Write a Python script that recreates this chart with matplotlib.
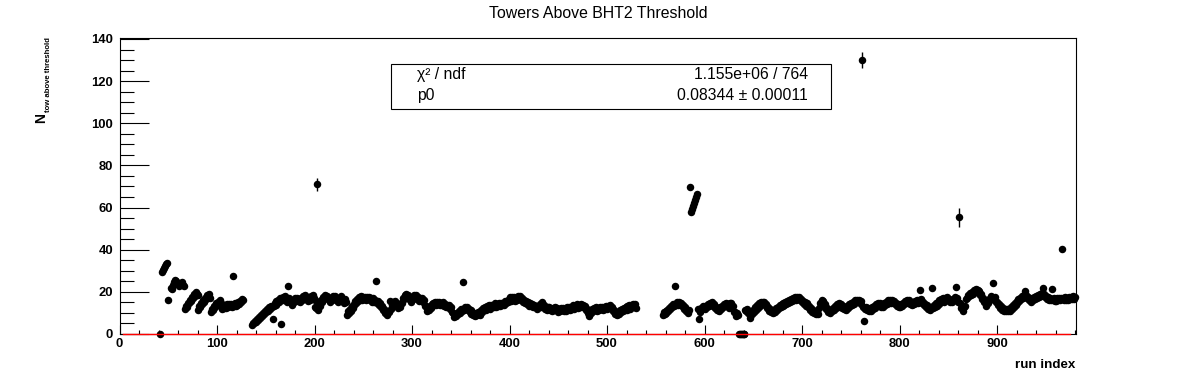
import matplotlib
matplotlib.use("Agg")
import matplotlib.pyplot as plt
from matplotlib.patches import Rectangle
from matplotlib.ticker import MultipleLocator

plt.rcParams['font.family'] = ['Liberation Sans', 'DejaVu Sans']

# ---------------- data (run index segments and tower counts) ----------------
seg_042 = [0.0]
seg_044 = [29.2, 30.4, 31.5, 32.3, 33.0, 33.8, 16.1]
seg_053 = [22.0, 21.4, 23.1, 24.6, 25.6, 25.2, 24.1, 23.5, 22.9, 23.6, 24.2, 24.8, 23.4, 22.6]
seg_067 = [12.0, 13.4, 13.0, 14.8, 14.6, 16.2, 15.7, 17.5, 17.0, 18.9, 18.1, 19.9, 19.2, 18.4,
           11.5, 13.2, 12.9, 14.6, 14.2, 16.0, 15.4, 17.3, 16.6, 18.5, 17.7, 18.9, 17.1,
           10.4, 12.0, 11.6, 13.3, 12.8, 14.5, 13.9, 15.4, 14.9, 16.0, 14.6,
           12.0, 13.4, 12.5, 13.7, 12.3, 14.1, 12.8, 14.0, 13.2, 14.3, 12.8, 27.5, 13.1, 14.6,
           13.3, 14.9, 13.9, 15.1, 14.3, 15.7, 15.0, 16.6, 16.0]
seg_136 = [4.2, 5.3, 5.0, 6.3, 5.7, 7.2, 6.6, 8.1, 7.5, 9.0, 8.6, 10.0, 9.5, 11.0, 10.4, 12.0,
           11.0, 12.6, 11.8, 13.4, 12.7, 7.0, 13.2, 14.8, 13.9, 15.6, 14.7, 16.2, 15.4, 16.9,
           4.6, 15.9, 17.4, 16.3, 17.9, 17.0]
seg_172 = [15.4, 22.8, 17.1, 15.2, 15.8, 13.9, 15.9, 15.4, 17.3, 16.3, 17.2, 15.6, 16.2, 15.0,
           16.9, 16.1, 17.9, 16.7, 18.5, 16.6, 17.3, 15.5, 17.1, 16.2, 18.0, 17.0, 18.7, 16.9]
seg_200 = [16.2, 12.6, 12.5, 71.0, 11.6, 14.1, 13.5, 15.9, 15.2, 17.4, 16.4, 18.5, 17.5, 18.2,
           16.6, 17.0, 15.2, 17.1, 16.2, 18.0, 17.0, 18.0, 16.0, 17.0, 15.2, 17.0, 16.3, 17.8,
           15.8, 16.7, 14.9, 16.5, 15.4, 9.0, 10.9, 10.2]
seg_236 = [11.9, 10.8, 13.1, 12.5, 14.4, 13.6, 15.5, 14.7, 16.6, 15.6, 17.4, 16.3, 17.8, 16.1,
           17.6, 16.5, 17.5, 15.9, 17.6, 16.4, 17.4, 16.0, 17.1, 15.4, 16.9, 15.2, 16.2, 25.2,
           14.8, 15.8, 13.9, 14.7, 12.6, 13.4, 11.3, 12.0, 10.0, 10.8, 9.2, 11.0, 10.4, 15.7,
           12.0, 13.8, 13.2, 15.0, 14.2, 15.8, 14.4, 14.0]
seg_286 = [12.2, 13.4, 12.7, 14.9, 14.6, 17.1, 16.8, 18.4, 18.9, 17.6, 18.3, 16.4, 17.2, 15.4,
           17.3, 16.4, 18.6, 17.7, 18.4, 16.6, 17.4, 15.6, 17.1, 16.2, 16.9, 15.2, 16.0, 13.1,
           13.2, 11.0]
seg_316 = [12.4, 11.6, 13.4, 12.5, 14.1, 13.1, 14.8, 13.6, 15.2, 13.9, 15.3, 14.2, 15.2, 13.7,
           14.6, 13.6, 15.1, 13.5, 14.4, 12.9, 13.9, 12.8, 13.7, 12.0, 12.8, 10.5, 10.0, 8.0]
seg_344 = [9.2, 8.4, 10.1, 9.4, 11.0, 10.2, 11.9, 11.0, 24.5, 11.3, 12.9, 11.8, 12.9, 11.4,
           12.1, 10.5, 11.2,
           9.6, 10.4, 8.8, 9.8, 8.4, 9.7, 9.0, 10.6, 9.7, 9.0, 11.4, 10.5, 12.2, 11.2, 12.9,
           11.6, 13.1, 12.2, 13.6, 12.1,
           13.7, 12.7, 13.9, 12.9, 14.5, 13.0, 14.4, 13.4, 14.5, 13.3, 14.9, 13.8, 14.9, 13.9,
           15.5, 14.6, 15.7, 15.1, 16.6, 15.8,
           17.4, 15.8, 17.6, 16.5, 17.5, 15.6, 17.2, 16.3, 18.0, 17.0, 17.8, 16.1, 16.9, 15.2,
           16.0, 14.9, 15.8, 14.1, 15.0, 13.4, 14.9, 13.3, 14.3, 12.7, 13.6, 12.6, 13.5, 12.0,
           13.4, 12.7]
seg_431 = [14.2, 13.0, 15.3, 13.4, 13.8, 12.0, 12.7, 11.2, 12.9, 12.1, 12.8, 11.2, 12.0, 10.9,
           12.2, 11.3, 12.9, 11.4, 12.2, 10.6,
           11.6, 10.8, 12.4, 11.6, 12.5, 10.9, 11.9, 11.1, 12.7, 11.9, 12.8, 11.2, 12.9, 12.1,
           13.6, 12.0, 13.5, 12.6, 14.0, 12.5,
           13.4, 12.6, 14.1, 12.7, 13.6, 12.8, 13.4, 11.5, 11.9, 9.9, 10.4, 8.7, 10.6, 10.0,
           11.7, 10.9, 12.5, 11.6, 12.6, 11.1,
           12.0, 11.2, 12.8, 11.9, 12.8, 11.3, 12.9, 12.0, 13.5, 12.0, 13.5, 12.5, 13.9, 12.3,
           12.9, 11.0, 11.5, 9.6, 10.2, 8.8,
           10.4, 9.7, 11.4, 10.6, 12.1, 10.7, 12.3, 11.4, 13.0, 11.6, 13.1, 12.2, 13.6, 12.1,
           13.6, 12.7, 14.1, 12.6, 14.0, 12.5]
seg_557 = [9.0, 10.5, 9.7, 10.9, 10.0, 11.5, 10.8, 12.5, 11.8, 13.5, 12.7, 14.3, 13.4, 22.8,
           13.7, 15.2, 13.9, 15.1, 14.0, 14.9, 13.2, 13.8, 12.0, 12.6, 10.8, 11.5, 10.0, 11.6,
           69.9, 58.0, 59.5, 60.8, 62.2, 63.5, 65.0, 66.3]
seg_593 = [12.1, 7.0, 10.6, 12.4, 11.7, 13.4, 12.5, 13.3, 11.8, 13.4,
           12.6, 14.2, 13.4, 14.9, 14.0, 15.2, 13.5, 14.2, 12.4, 13.0,
           11.2, 12.0, 11.0, 12.6, 11.9, 13.5, 12.7, 14.2, 13.3, 14.8,
           13.2, 14.0, 12.4, 14.6, 14.8, 12.9, 13.1, 10.6, 10.6, 8.6,
           10.2, 8.8,
           0.0, 0.0, 0.0, 0.0, 0.0, 0.0, 0.0,
           11.6, 10.9, 11.8, 10.0, 10.1, 7.4, 9.6, 9.6, 11.6, 10.4,
           12.7, 11.5, 13.6, 12.4, 14.5, 13.4, 15.4, 14.5, 15.3]
seg_661 = [15.2, 13.6, 14.0, 12.2, 12.8, 11.1, 11.9, 10.4, 11.4, 10.1,
           11.5, 10.6, 12.2, 11.4, 13.0, 12.2, 13.7, 12.8, 14.2, 13.2,
           14.5, 13.6, 15.1, 14.2, 15.7, 14.8, 16.3, 15.3, 16.8, 15.8,
           17.2, 16.2, 17.5, 16.3, 17.7, 16.6, 17.6, 16.0, 16.7, 15.0,
           15.7, 14.1, 15.0, 13.5, 14.5, 12.8, 13.4, 11.6, 12.2, 10.5,
           11.3, 9.8, 10.8, 9.4, 10.6, 9.7, 12.5, 14.5,
           14.4, 15.9, 14.7, 15.6, 13.7, 14.0, 11.9, 12.3, 10.4, 11.2, 10.1, 11.6, 10.8, 12.4,
           11.6, 13.2, 12.4, 14.0, 13.0, 14.5, 13.1]
seg_740 = [14.0, 12.4, 13.2, 11.7, 12.6, 11.6, 13.2, 12.4, 14.0, 13.2,
           14.7, 13.8, 15.3, 14.4, 15.9, 15.0, 16.0, 15.1, 16.1, 15.0,
           15.8, 14.0, 130.0, 13.0, 6.3, 12.0, 12.8, 11.2, 12.2, 10.8,
           12.0, 11.1, 12.6, 11.8, 13.4, 12.5, 14.1, 13.2, 14.7, 13.8,
           14.6, 13.0, 13.8, 12.9, 14.5, 13.7, 15.3, 14.4, 15.9, 14.9,
           16.2, 14.8, 16.3, 15.0, 15.8, 14.2, 14.9, 13.3, 14.1, 12.6,
           13.6, 12.7, 14.3, 13.4, 14.9, 14.0, 15.5, 14.5, 16.0, 15.0,
           15.9, 14.4, 15.2, 13.6, 15.1, 14.2, 15.7, 14.8, 16.3, 14.9,
           16.2, 20.9, 16.4, 14.7, 15.4, 13.7, 14.4, 12.8, 13.6, 12.1, 13.0, 11.5]
seg_832 = [13.0, 21.7, 12.2, 13.8, 12.6, 14.6, 13.4, 15.4, 14.2, 16.1,
           15.2, 16.7, 15.8, 16.9, 15.3, 16.9, 16.1, 17.6, 16.0, 16.8,
           15.2, 16.0, 15.2, 16.8, 16.0, 17.6, 22.5, 17.0, 15.2, 55.5,
           14.6, 12.4, 12.8, 10.8, 12.9, 13.4, 16.4, 16.9,
           18.6, 17.8, 19.4, 18.6, 20.1, 19.2, 20.7, 19.8, 21.3, 20.3,
           21.0, 19.9, 20.6, 18.6, 18.9, 16.8, 17.1, 15.0, 15.4, 13.4,
           15.1, 14.6, 16.5, 16.0, 17.8, 17.2, 24.0, 16.9, 17.4, 15.4]
seg_900 = [15.1, 13.9, 14.1, 12.4, 13.2, 11.6, 12.5, 11.1, 12.1, 10.8,
           11.9, 10.9, 12.0, 10.9, 12.6, 11.9, 13.6, 12.9, 14.6, 13.9,
           15.6, 14.8, 16.4, 15.6, 17.2, 16.4, 17.9, 17.0, 18.4, 20.6,
           18.4, 16.9, 17.7, 16.1, 16.9, 15.4, 16.8, 15.9, 17.4, 16.5,
           18.0, 17.1, 18.5, 17.6, 19.1, 18.2, 19.6, 21.7, 19.1, 17.5,
           18.2, 16.6, 17.5, 16.0, 17.0, 15.9, 21.3, 16.3, 17.2, 15.8,
           16.8, 15.8, 17.2, 15.9, 17.3, 16.2, 17.2, 40.3, 17.3, 16.3,
           17.6, 16.2, 17.3, 16.3, 17.7, 16.4, 17.4, 16.4, 17.8, 16.5, 17.5]

segments = [(42, seg_042), (44, seg_044), (53, seg_053), (67, seg_067), (136, seg_136),
            (172, seg_172), (200, seg_200), (236, seg_236), (286, seg_286), (316, seg_316),
            (344, seg_344), (431, seg_431), (557, seg_557), (593, seg_593), (661, seg_661),
            (740, seg_740), (832, seg_832), (900, seg_900)]

# points with visible error bars
err_runs = [203, 762, 861, 967]
err_sizes = [3.2, 3.8, 4.5, 1.2]

# fit result
p0 = 0.08344
fit_range = [4, 975]

title = "Towers Above BHT2 Threshold"
x_ticks = [0, 100, 200, 300, 400, 500, 600, 700, 800, 900]
y_ticks = [0, 20, 40, 60, 80, 100, 120, 140]

# ---------------- build series ----------------
run_index = []
n_towers = []
for start, vals in segments:
    for i, v in enumerate(vals):
        run_index.append(start + i)
        n_towers.append(v)
lookup = dict(zip(run_index, n_towers))

# ---------------- figure ----------------
W, H = 1196, 372
fig = plt.figure(figsize=(W / 100, H / 100), dpi=100)
fig.patch.set_facecolor('white')

def fx(px):
    return px / W

def fy(py):
    return 1 - py / H

ax_l, ax_r, ax_t, ax_b = 119.5, 1075.7, 37.7, 334.0
ax = fig.add_axes([fx(ax_l), fy(ax_b), fx(ax_r - ax_l), (ax_b - ax_t) / H])
ax.set_xlim(0, 980.7)
ax.set_ylim(0, 140.6)

for sp in ax.spines.values():
    sp.set_linewidth(0.8)
    sp.set_color('black')

ax.set_xticks(x_ticks, labels=[str(t) for t in x_ticks], fontweight='bold')
ax.set_yticks(y_ticks, labels=[str(t) for t in y_ticks], fontweight='bold')
ax.xaxis.set_minor_locator(MultipleLocator(20))
ax.yaxis.set_minor_locator(MultipleLocator(5))
ax.tick_params(axis='both', which='both', direction='in', top=False, right=False,
               width=0.8, color='black', labelsize=9.4)
ax.tick_params(axis='y', which='major', length=20.9, pad=4.5)
ax.tick_params(axis='y', which='minor', length=10.4)
ax.tick_params(axis='x', which='major', length=6.5, pad=3.0)
ax.tick_params(axis='x', which='minor', length=3.2)

# error bars
for r, e in zip(err_runs, err_sizes):
    yv = lookup[r]
    ax.vlines(r, yv - e, yv + e, color='black', lw=1.0, zorder=3)

# markers
ax.plot(run_index, n_towers, linestyle='none', marker='o', ms=5.4, color='black',
        markeredgewidth=0, clip_on=False, zorder=4)

# fit line
ax.plot(fit_range, [p0, p0], color='red', lw=1.0, clip_on=False, zorder=5)

# title and axis titles
fig.text(fx(598.3), fy(18.3), title, ha='center', va='baseline', fontsize=11.4)
fig.text(fx(1075.7), fy(367.7), "run index", ha='right', va='baseline',
         fontsize=9.6, fontweight='bold')
fig.text(fx(41.0), fy(118.0), "N", rotation=90, ha='center', va='center',
         fontsize=10.0, fontweight='bold')
fig.text(fx(48.7), fy(112.0), "tow above threshold", rotation=90, ha='center',
         va='bottom', fontsize=5.6, fontweight='bold')

# stats box
bx0, by0, bx1, by1 = 391.0, 64.0, 831.0, 109.0
fig.patches.append(Rectangle((fx(bx0), fy(by1)), fx(bx1 - bx0), (by1 - by0) / H,
                             transform=fig.transFigure, facecolor='white',
                             edgecolor='black', lw=0.8, zorder=10))
fig.text(fx(416.7), fy(79.3), "\u03c7\u00b2 / ndf", ha='left', va='baseline', fontsize=11.3, zorder=11)
fig.text(fx(807.7), fy(79.3), "1.155e+06 / 764", ha='right', va='baseline', fontsize=11.3, zorder=11)
fig.text(fx(416.7), fy(100.0), "p0", ha='left', va='baseline', fontsize=11.3, zorder=11)
fig.text(fx(807.7), fy(100.0), "0.08344 \u00b1 0.00011", ha='right', va='baseline', fontsize=11.3, zorder=11)

fig.savefig("out.png", dpi=100, facecolor='white')
